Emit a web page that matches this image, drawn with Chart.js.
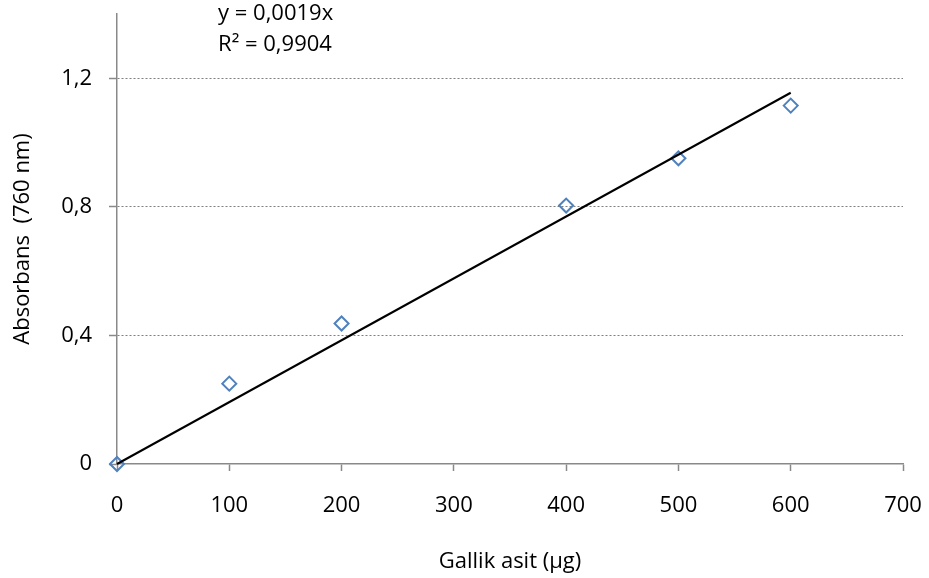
<!DOCTYPE html>
<html>
<head>
<meta charset="utf-8">
<script src="https://cdn.jsdelivr.net/npm/chart.js@4/dist/chart.umd.min.js"></script>
<style>
  html, body { margin: 0; padding: 0; background: #ffffff; }
  #wrap { position: relative; width: 929px; height: 578px; }
</style>
</head>
<body>
<div id="wrap"><canvas id="c" width="929" height="578"></canvas></div>
<script>
// ---- data ----
const xValues = [0, 100, 200, 400, 500, 600];
const yValues = [0, 0.25, 0.437, 0.804, 0.951, 1.115];
const trendX = [0, 600];
const trendY = [0, 1.155];
const xTicks = [0, 100, 200, 300, 400, 500, 600, 700];
const yTicks = [0, 0.4, 0.8, 1.2];
const equationLines = ['y = 0,0019x', 'R\u00B2 = 0,9904'];
const xTitle = 'Gallik asit (\u00B5g)';
const yTitle = 'Absorbans  (760 nm)';

const FONT = "'Open Sans', sans-serif";
const AXIS_COLOR = '#898989';

const equationPlugin = {
  id: 'equation',
  afterDraw(chart) {
    const ctx = chart.ctx;
    ctx.save();
    ctx.font = "22px " + FONT;
    ctx.fillStyle = '#000000';
    ctx.textAlign = 'left';
    ctx.textBaseline = 'middle';
    const xs = chart.scales.x;
    const left = xs.getPixelForValue(90);
    equationLines.forEach((t, i) => ctx.fillText(t, left, 14 + i * 31));
    ctx.restore();
  }
};

new Chart(document.getElementById('c'), {
  type: 'scatter',
  data: {
    datasets: [
      {
        type: 'line',
        label: 'trend',
        data: trendX.map((x, i) => ({ x: x, y: trendY[i] })),
        borderColor: '#000000',
        borderWidth: 2,
        pointRadius: 0,
        fill: false,
        tension: 0,
        clip: false
      },
      {
        label: 'data',
        data: xValues.map((x, i) => ({ x: x, y: yValues[i] })),
        pointStyle: 'rectRot',
        pointRadius: 7,
        pointHoverRadius: 7,
        pointBorderWidth: 2,
        borderColor: '#4F81BD',
        backgroundColor: 'rgba(0,0,0,0)',
        showLine: false,
        clip: false
      }
    ]
  },
  options: {
    responsive: false,
    animation: false,
    events: [],
    layout: { padding: { left: 0, top: 14, right: 26, bottom: 0 } },
    plugins: {
      legend: { display: false },
      tooltip: { enabled: false }
    },
    scales: {
      x: {
        type: 'linear',
        min: 0,
        max: 700,
        afterBuildTicks: (s) => { s.ticks = xTicks.map(v => ({ value: v })); },
        afterFit: (s) => { s.height = 114; s.paddingLeft = 0; s.paddingRight = 0; },
        grid: {
          drawOnChartArea: false,
          drawTicks: true,
          tickLength: 7,
          tickColor: AXIS_COLOR,
          tickWidth: 1.5
        },
        border: { display: true, color: AXIS_COLOR, width: 1.5 },
        ticks: {
          color: '#000000',
          font: { family: FONT, size: 22 },
          padding: 22,
          maxRotation: 0,
          callback: (v) => String(v)
        },
        title: {
          display: true,
          text: xTitle,
          color: '#000000',
          font: { family: FONT, size: 22 },
          padding: { top: 0, bottom: 3 }
        }
      },
      y: {
        type: 'linear',
        min: 0,
        max: 1.4,
        afterBuildTicks: (s) => { s.ticks = yTicks.map(v => ({ value: v })); },
        afterFit: (s) => { s.width = 117; s.paddingTop = 0; s.paddingBottom = 0; },
        grid: {
          drawOnChartArea: true,
          color: (c) => c.tick && c.tick.value === 0 ? 'rgba(0,0,0,0)' : '#7f7f7f',
          lineWidth: 1,
          drawTicks: true,
          tickLength: 8,
          tickColor: AXIS_COLOR,
          tickWidth: 1.5,
          tickBorderDash: []
        },
        border: { display: true, color: AXIS_COLOR, width: 1.5, dash: [2, 2] },
        ticks: {
          color: '#000000',
          font: { family: FONT, size: 22 },
          padding: 17,
          callback: (v) => String(v).replace('.', ',')
        },
        title: {
          display: true,
          text: yTitle,
          color: '#000000',
          font: { family: FONT, size: 22 },
          padding: { top: 10, bottom: 0 }
        }
      }
    }
  },
  plugins: [equationPlugin]
});
</script>
</body>
</html>
